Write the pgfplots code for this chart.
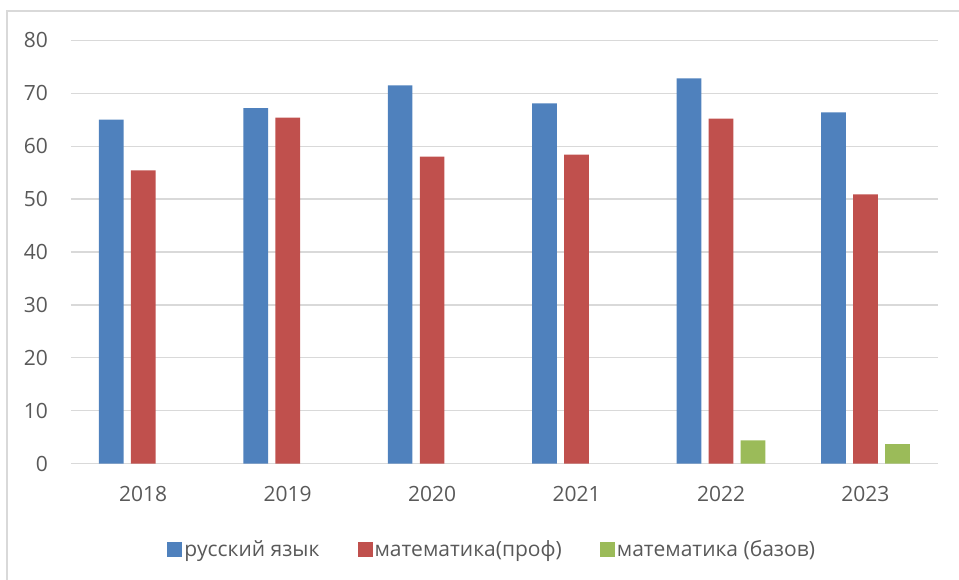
\documentclass[border=0pt]{standalone}
\usepackage{fontspec}
\setmainfont{Open Sans}
\usepackage{pgfplots}
\pgfplotsset{compat=1.18}
\definecolor{cblue}{HTML}{4F81BD}
\definecolor{cred}{HTML}{C0504D}
\definecolor{cgreen}{HTML}{9BBB59}
\definecolor{gridc}{HTML}{D9D9D9}
\definecolor{txt}{HTML}{595959}
\begin{document}
\begin{tikzpicture}[x=1pt,y=1pt]
\useasboundingbox (-71,-116.3) rectangle (888,463.7);
\draw[color=gridc, line width=1.3pt] (-64,-130) -- (-64,452.7) -- (900,452.7);
\begin{axis}[
  at={(0,0)}, anchor=south west,
  scale only axis, width=866.7pt, height=423.4pt,
  xmin=-0.5, xmax=5.5, ymin=0, ymax=80,
  ytick={0,10,...,80},
  xtick={0,...,5},
  xticklabels={2018,2019,2020,2021,2022,2023},
  ybar=7.3pt, bar width=24.7pt,
  axis x line*=bottom, axis y line*=left,
  x axis line style={color=gridc, line width=1.3pt, -},
  y axis line style={draw=none},
  ymajorgrids, grid style={color=gridc, line width=1.3pt},
  major tick length=0pt, tick style={draw=none},
  /pgf/number format/assume math mode=true,
  tick label style={font=\fontsize{21}{25}\selectfont, color=txt, inner sep=0pt},
  yticklabel style={anchor=east, xshift=-23pt},
  xticklabel style={anchor=north, yshift=-22pt},
  legend columns=3,
  legend style={at={(axis description cs:0.486,-0.2015)}, anchor=center,
    draw=none, fill=none, font=\fontsize{21}{25}\selectfont, text=txt,
    /tikz/every even column/.append style={column sep=36pt},
    inner sep=0pt, nodes={inner sep=2pt}},
  legend image code/.code={\fill[#1] (0pt,-7.5pt) rectangle (15pt,7.5pt);},
]
\addplot[fill=cblue, draw=none] coordinates {(0,65.0) (1,67.2) (2,71.5) (3,68.1) (4,72.8) (5,66.4)};
\addplot[fill=cred, draw=none] coordinates {(0,55.4) (1,65.4) (2,58.0) (3,58.4) (4,65.2) (5,50.9)};
\addplot[fill=cgreen, draw=none] coordinates {(4,4.4) (5,3.7)};
\legend{русский язык, математика(проф), математика (базов)}
\end{axis}
\end{tikzpicture}
\end{document}
